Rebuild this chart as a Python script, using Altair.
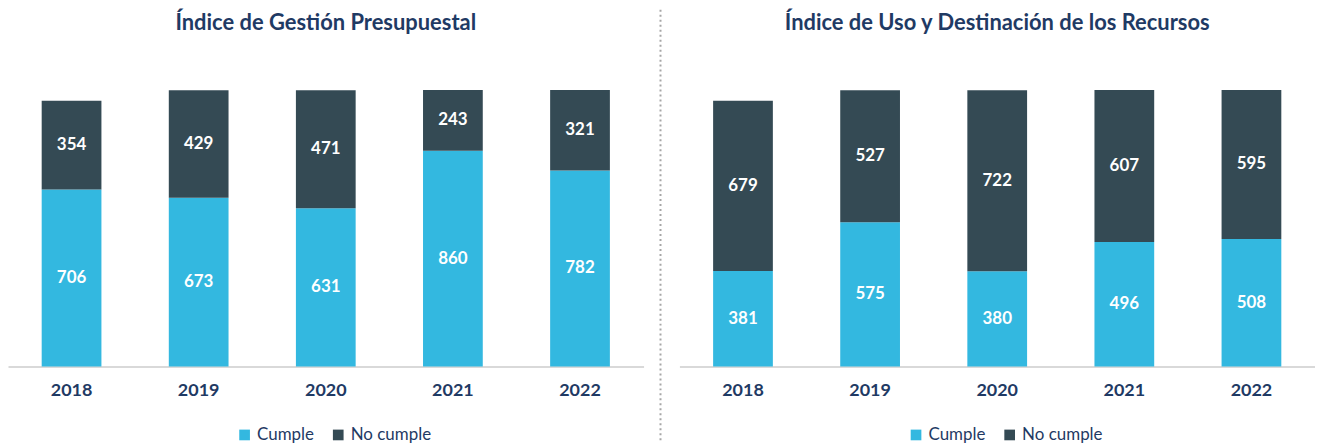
import altair as alt
import pandas as pd

years = ["2018", "2019", "2020", "2021", "2022"]
series = ["Cumple", "No cumple"]
gestion_cumple = [706, 673, 631, 860, 782]
gestion_no_cumple = [354, 429, 471, 243, 321]
uso_cumple = [381, 575, 380, 496, 508]
uso_no_cumple = [679, 527, 722, 607, 595]

colors = ["#33B8E0", "#344A54"]
navy = "#1F3A64"
FONT = "Lato"


def make_df(c, n):
    rows = []
    for y, a, b in zip(years, c, n):
        rows.append(dict(year=y, serie=series[0], value=a, ord=0))
        rows.append(dict(year=y, serie=series[1], value=b, ord=1))
    return pd.DataFrame(rows)


W, H = 638, 302


def panel(df, title):
    base = alt.Chart(df).transform_stack(
        stack="value", groupby=["year"], as_=["v0", "v1"],
        sort=[alt.SortField("ord", order="ascending")]
    ).transform_calculate(mid="(datum.v0 + datum.v1) / 2")

    x = alt.X("year:N", title=None,
              scale=alt.Scale(paddingInner=0.53, paddingOuter=0.265),
              axis=alt.Axis(labelAngle=0, ticks=False, tickSize=0, labelPadding=15,
                            labelFontSize=18, labelFont=FONT, labelFontWeight="bold",
                            labelColor=navy, domainColor="#D9D9D9", domainWidth=2,
                            grid=False))
    bars = base.mark_bar().encode(
        x=x,
        y=alt.Y("v0:Q", scale=alt.Scale(domain=[0, 1200]), axis=None),
        y2="v1:Q",
        color=alt.Color("serie:N", scale=alt.Scale(domain=series, range=colors),
                        legend=alt.Legend(title=None, orient="none", direction="horizontal",
                                          legendX=229, legendY=362,
                                          symbolType="square", symbolSize=115,
                                          symbolStrokeWidth=0, labelFontSize=17,
                                          labelFont=FONT, labelColor=navy,
                                          labelOffset=4, columnPadding=15)),
    )
    text = base.mark_text(color="white", fontWeight="bold", fontSize=17, font=FONT).encode(
        x=x, y=alt.Y("mid:Q"), text="value:Q"
    )
    return alt.layer(bars, text).properties(
        width=W, height=H,
        title=alt.TitleParams(title, font=FONT, fontSize=22, fontWeight="bold",
                              color=navy, anchor="middle", offset=31),
    )


left = panel(make_df(gestion_cumple, gestion_no_cumple), "Índice de Gestión Presupuestal")
right = panel(make_df(uso_cumple, uso_no_cumple), "Índice de Uso y Destinación de los Recursos")

sep = alt.Chart(pd.DataFrame({"a": [0]})).mark_rule(
    color="#A6A6A6", strokeWidth=2, strokeDash=[2, 3]
).encode(x=alt.value(0), y=alt.value(-56), y2=alt.value(377)).properties(width=2, height=H)

chart = alt.hconcat(left, sep, right, spacing=17, bounds="flush").resolve_legend(
    color="independent"
).properties(
    padding={"left": 0, "top": 0, "right": 0, "bottom": 0}
).configure_view(stroke=None)

chart.save("out.html", embed_options={"renderer": "svg", "actions": False})
